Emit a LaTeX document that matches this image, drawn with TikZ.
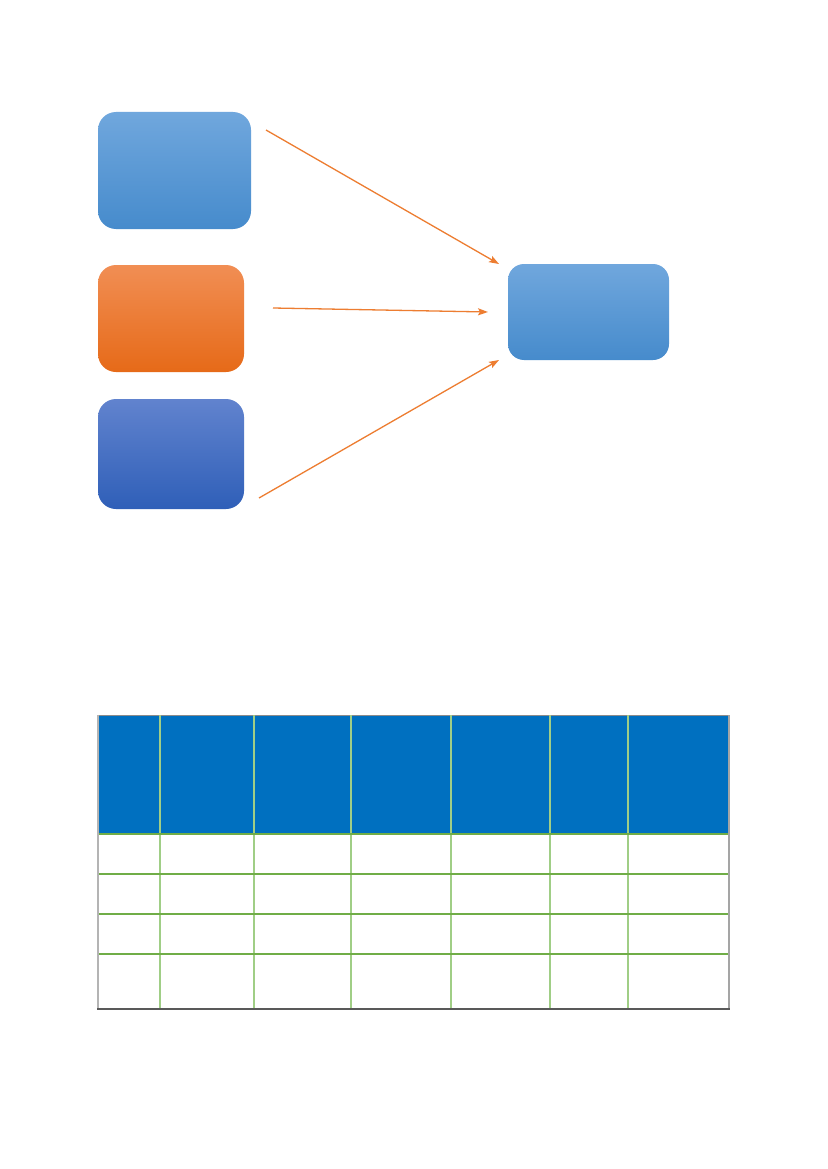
\documentclass[tikz,border=0pt]{standalone}
\usetikzlibrary{arrows.meta}
\definecolor{lbtop}{RGB}{112,167,221}
\definecolor{lbmid}{RGB}{88,156,219}
\definecolor{lbbot}{RGB}{70,139,204}
\definecolor{ortop}{RGB}{241,142,84}
\definecolor{ormid}{RGB}{245,126,40}
\definecolor{orbot}{RGB}{230,106,24}
\definecolor{dbtop}{RGB}{97,131,206}
\definecolor{dbmid}{RGB}{66,115,204}
\definecolor{dbbot}{RGB}{47,95,184}
\definecolor{arrowor}{RGB}{237,125,49}
\definecolor{hdrblue}{RGB}{0,112,192}
\definecolor{gridgreen}{RGB}{112,173,71}
\definecolor{gridlight}{RGB}{160,206,134}
\definecolor{bordergray}{RGB}{180,180,180}
\definecolor{bottomgray}{RGB}{89,89,89}
\tikzset{
  boxbase/.style={draw=none, inner sep=0pt, rounded corners=18pt},
  lightbox/.style={boxbase, top color=lbtop, middle color=lbmid, bottom color=lbbot},
  orangebox/.style={boxbase, top color=ortop, middle color=ormid, bottom color=orbot},
  darkbox/.style={boxbase, top color=dbtop, middle color=dbmid, bottom color=dbbot},
  flowarrow/.style={draw=arrowor, line width=1.3pt, -{Stealth[length=10pt,width=7pt,inset=2pt]}},
  hline/.style={draw=gridgreen, line width=1.4pt},
  vline/.style={draw=gridlight, line width=1.6pt},
}
\begin{document}
\begin{tikzpicture}[x=1pt,y=-1pt]
\useasboundingbox[fill=white] (0,0) rectangle (827,1169);
% boxes
\node[lightbox, minimum width=153pt, minimum height=117pt] (b1) at (174.5,170.5) {};
\node[orangebox, minimum width=146pt, minimum height=107pt] (b2) at (171,318.5) {};
\node[darkbox, minimum width=146pt, minimum height=110pt] (b3) at (171,454) {};
\node[lightbox, rounded corners=16pt, minimum width=161pt, minimum height=96pt] (b4) at (588.5,312) {};
% arrow end points
\coordinate (s1) at (266,130);
\coordinate (e1) at (499,264);
\coordinate (s2) at (273,308);
\coordinate (e2) at (488,312);
\coordinate (s3) at (259,498);
\coordinate (e3) at (499,360);
\draw[flowarrow] (s1) -- (e1);
\draw[flowarrow] (s2) -- (e2);
\draw[flowarrow] (s3) -- (e3);
% table
\fill[hdrblue] (98,715) rectangle (729,834);
\draw[draw=bottomgray!70, line width=1pt] (98,715) -- (729,715);
\foreach \x in {160,254,351,451,550,628} {
  \draw[vline] (\x,715) -- (\x,1009);
}
\foreach \y in {834,874,914,954} {
  \draw[hline] (98,\y) -- (729,\y);
}
\draw[draw=bordergray, line width=1.4pt] (98,715) -- (98,1009);
\draw[draw=bordergray!120, line width=1.4pt] (729,715) -- (729,1009);
\draw[draw=bottomgray, line width=1.6pt] (97,1009) -- (730,1009);
\end{tikzpicture}
\end{document}
